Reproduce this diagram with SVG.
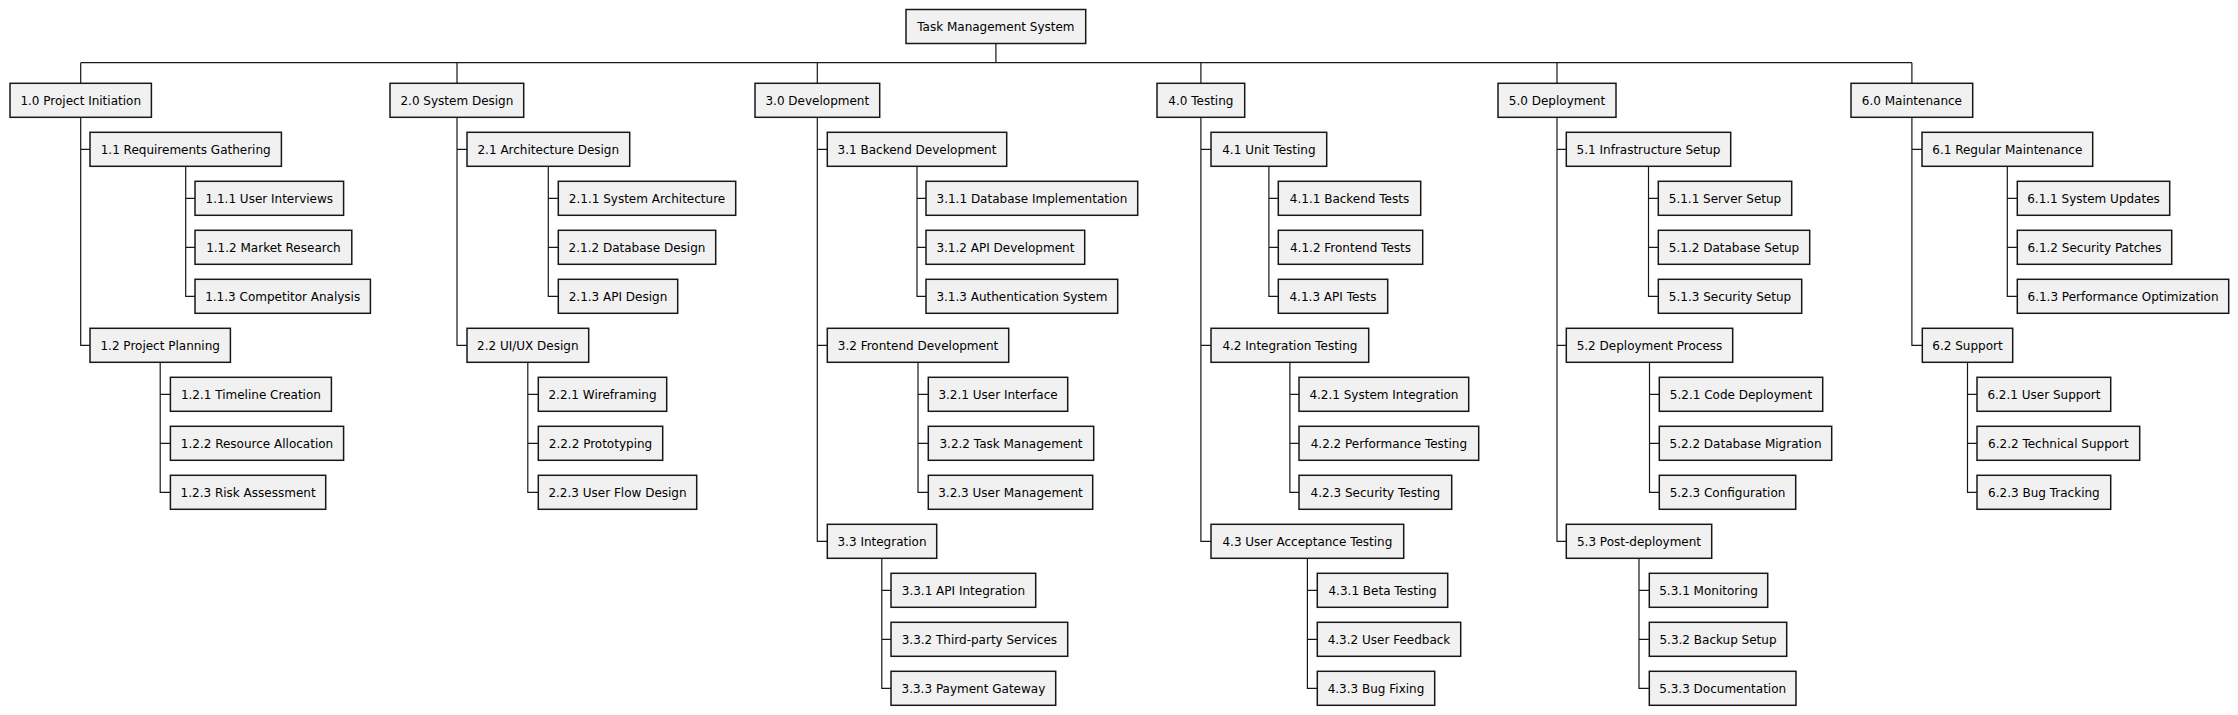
<svg xmlns="http://www.w3.org/2000/svg" width="2238" height="715" viewBox="0 0 2238 715">
<style>
rect.b{fill:#F1F1F1;stroke:#181818;stroke-width:1.5}
text{font-family:"DejaVu Sans",sans-serif;font-size:12px;fill:#000;text-anchor:middle}
path.c{fill:none;stroke:#181818;stroke-width:1.2}
</style>
<rect width="2238" height="715" fill="#FFFFFF"/>
<g id="connectors">
<path class="c" d="M995.9 43.5V62.7M80.7 62.7H1911.9M80.7 62.7V83.3M457 62.7V83.3M817.3 62.7V83.3M1200.9 62.7V83.3M1557 62.7V83.3M1911.9 62.7V83.3"/>
<path class="c" d="M80.7 117.3V345.3H90M80.7 149.3H90"/>
<path class="c" d="M185.7 166.3V296.3H195M185.7 198.3H195M185.7 247.3H195"/>
<path class="c" d="M160.2 362.3V492.3H170.4M160.2 394.3H170.4M160.2 443.3H170.4"/>
<path class="c" d="M457 117.3V345.3H467M457 149.3H467"/>
<path class="c" d="M548.3 166.3V296.3H558.3M548.3 198.3H558.3M548.3 247.3H558.3"/>
<path class="c" d="M527.8 362.3V492.3H538.3M527.8 394.3H538.3M527.8 443.3H538.3"/>
<path class="c" d="M817.3 117.3V541.3H827.3M817.3 149.3H827.3M817.3 345.3H827.3"/>
<path class="c" d="M917 166.3V296.3H926M917 198.3H926M917 247.3H926"/>
<path class="c" d="M918 362.3V492.3H928.3M918 394.3H928.3M918 443.3H928.3"/>
<path class="c" d="M881.8 558.3V688.3H891M881.8 590.3H891M881.8 639.3H891"/>
<path class="c" d="M1200.9 117.3V541.3H1211M1200.9 149.3H1211M1200.9 345.3H1211"/>
<path class="c" d="M1268.9 166.3V296.3H1278.3M1268.9 198.3H1278.3M1268.9 247.3H1278.3"/>
<path class="c" d="M1289.9 362.3V492.3H1299M1289.9 394.3H1299M1289.9 443.3H1299"/>
<path class="c" d="M1307.4 558.3V688.3H1317.3M1307.4 590.3H1317.3M1307.4 639.3H1317.3"/>
<path class="c" d="M1557 117.3V541.3H1566.3M1557 149.3H1566.3M1557 345.3H1566.3"/>
<path class="c" d="M1648.5 166.3V296.3H1658.3M1648.5 198.3H1658.3M1648.5 247.3H1658.3"/>
<path class="c" d="M1649.5 362.3V492.3H1659.3M1649.5 394.3H1659.3M1649.5 443.3H1659.3"/>
<path class="c" d="M1639 558.3V688.3H1649.3M1639 590.3H1649.3M1639 639.3H1649.3"/>
<path class="c" d="M1911.9 117.3V345.3H1922M1911.9 149.3H1922"/>
<path class="c" d="M2007.3 166.3V296.3H2017.3M2007.3 198.3H2017.3M2007.3 247.3H2017.3"/>
<path class="c" d="M1967.5 362.3V492.3H1977M1967.5 394.3H1977M1967.5 443.3H1977"/>
</g>
<g id="root"><rect class="b" x="906" y="9.5" width="179.7" height="34"/><text x="995.9" y="30.9">Task Management System</text></g>

<g id="n1_0"><rect class="b" x="10" y="83.3" width="141.4" height="34"/><text x="80.7" y="104.7">1.0 Project Initiation</text></g>
<g id="n1_1"><rect class="b" x="90" y="132.3" width="191.4" height="34"/><text x="185.7" y="153.7">1.1 Requirements Gathering</text></g>
<g id="n1_1_1"><rect class="b" x="195" y="181.3" width="148.6" height="34"/><text x="269.3" y="202.7">1.1.1 User Interviews</text></g>
<g id="n1_1_2"><rect class="b" x="195" y="230.3" width="156.8" height="34"/><text x="273.4" y="251.7">1.1.2 Market Research</text></g>
<g id="n1_1_3"><rect class="b" x="195" y="279.3" width="175.4" height="34"/><text x="282.7" y="300.7">1.1.3 Competitor Analysis</text></g>
<g id="n1_2"><rect class="b" x="90" y="328.3" width="140.4" height="34"/><text x="160.2" y="349.7">1.2 Project Planning</text></g>
<g id="n1_2_1"><rect class="b" x="170.4" y="377.3" width="161" height="34"/><text x="250.9" y="398.7">1.2.1 Timeline Creation</text></g>
<g id="n1_2_2"><rect class="b" x="170.4" y="426.3" width="173.2" height="34"/><text x="257" y="447.7">1.2.2 Resource Allocation</text></g>
<g id="n1_2_3"><rect class="b" x="170.4" y="475.3" width="155.3" height="34"/><text x="248.1" y="496.7">1.2.3 Risk Assessment</text></g>

<g id="n2_0"><rect class="b" x="390" y="83.3" width="133.7" height="34"/><text x="456.9" y="104.7">2.0 System Design</text></g>
<g id="n2_1"><rect class="b" x="467" y="132.3" width="162.7" height="34"/><text x="548.3" y="153.7">2.1 Architecture Design</text></g>
<g id="n2_1_1"><rect class="b" x="558.3" y="181.3" width="177.4" height="34"/><text x="647" y="202.7">2.1.1 System Architecture</text></g>
<g id="n2_1_2"><rect class="b" x="558.3" y="230.3" width="157.4" height="34"/><text x="637" y="251.7">2.1.2 Database Design</text></g>
<g id="n2_1_3"><rect class="b" x="558.3" y="279.3" width="119.4" height="34"/><text x="618" y="300.7">2.1.3 API Design</text></g>
<g id="n2_2"><rect class="b" x="467" y="328.3" width="121.7" height="34"/><text x="527.8" y="349.7">2.2 UI/UX Design</text></g>
<g id="n2_2_1"><rect class="b" x="538.3" y="377.3" width="128.4" height="34"/><text x="602.5" y="398.7">2.2.1 Wireframing</text></g>
<g id="n2_2_2"><rect class="b" x="538.3" y="426.3" width="124.4" height="34"/><text x="600.5" y="447.7">2.2.2 Prototyping</text></g>
<g id="n2_2_3"><rect class="b" x="538.3" y="475.3" width="158.4" height="34"/><text x="617.5" y="496.7">2.2.3 User Flow Design</text></g>

<g id="n3_0"><rect class="b" x="755" y="83.3" width="124.7" height="34"/><text x="817.3" y="104.7">3.0 Development</text></g>
<g id="n3_1"><rect class="b" x="827.3" y="132.3" width="179.4" height="34"/><text x="917" y="153.7">3.1 Backend Development</text></g>
<g id="n3_1_1"><rect class="b" x="926" y="181.3" width="211.7" height="34"/><text x="1031.9" y="202.7">3.1.1 Database Implementation</text></g>
<g id="n3_1_2"><rect class="b" x="926" y="230.3" width="158.7" height="34"/><text x="1005.4" y="251.7">3.1.2 API Development</text></g>
<g id="n3_1_3"><rect class="b" x="926" y="279.3" width="191.7" height="34"/><text x="1021.9" y="300.7">3.1.3 Authentication System</text></g>
<g id="n3_2"><rect class="b" x="827.3" y="328.3" width="181.4" height="34"/><text x="918" y="349.7">3.2 Frontend Development</text></g>
<g id="n3_2_1"><rect class="b" x="928.3" y="377.3" width="139.4" height="34"/><text x="998" y="398.7">3.2.1 User Interface</text></g>
<g id="n3_2_2"><rect class="b" x="928.3" y="426.3" width="165.4" height="34"/><text x="1011" y="447.7">3.2.2 Task Management</text></g>
<g id="n3_2_3"><rect class="b" x="928.3" y="475.3" width="164.4" height="34"/><text x="1010.5" y="496.7">3.2.3 User Management</text></g>
<g id="n3_3"><rect class="b" x="827.3" y="524.3" width="109.4" height="34"/><text x="882" y="545.7">3.3 Integration</text></g>
<g id="n3_3_1"><rect class="b" x="891" y="573.3" width="144.7" height="34"/><text x="963.4" y="594.7">3.3.1 API Integration</text></g>
<g id="n3_3_2"><rect class="b" x="891" y="622.3" width="176.7" height="34"/><text x="979.4" y="643.7">3.3.2 Third-party Services</text></g>
<g id="n3_3_3"><rect class="b" x="891" y="671.3" width="164.7" height="34"/><text x="973.4" y="692.7">3.3.3 Payment Gateway</text></g>

<g id="n4_0"><rect class="b" x="1157" y="83.3" width="87.7" height="34"/><text x="1200.9" y="104.7">4.0 Testing</text></g>
<g id="n4_1"><rect class="b" x="1211" y="132.3" width="115.7" height="34"/><text x="1268.9" y="153.7">4.1 Unit Testing</text></g>
<g id="n4_1_1"><rect class="b" x="1278.3" y="181.3" width="142.4" height="34"/><text x="1349.5" y="202.7">4.1.1 Backend Tests</text></g>
<g id="n4_1_2"><rect class="b" x="1278.3" y="230.3" width="144.4" height="34"/><text x="1350.5" y="251.7">4.1.2 Frontend Tests</text></g>
<g id="n4_1_3"><rect class="b" x="1278.3" y="279.3" width="109.4" height="34"/><text x="1333" y="300.7">4.1.3 API Tests</text></g>
<g id="n4_2"><rect class="b" x="1211" y="328.3" width="157.7" height="34"/><text x="1289.9" y="349.7">4.2 Integration Testing</text></g>
<g id="n4_2_1"><rect class="b" x="1299" y="377.3" width="169.7" height="34"/><text x="1383.9" y="398.7">4.2.1 System Integration</text></g>
<g id="n4_2_2"><rect class="b" x="1299" y="426.3" width="179.7" height="34"/><text x="1388.9" y="447.7">4.2.2 Performance Testing</text></g>
<g id="n4_2_3"><rect class="b" x="1299" y="475.3" width="152.7" height="34"/><text x="1375.4" y="496.7">4.2.3 Security Testing</text></g>
<g id="n4_3"><rect class="b" x="1211" y="524.3" width="192.7" height="34"/><text x="1307.4" y="545.7">4.3 User Acceptance Testing</text></g>
<g id="n4_3_1"><rect class="b" x="1317.3" y="573.3" width="130.4" height="34"/><text x="1382.5" y="594.7">4.3.1 Beta Testing</text></g>
<g id="n4_3_2"><rect class="b" x="1317.3" y="622.3" width="143.4" height="34"/><text x="1389" y="643.7">4.3.2 User Feedback</text></g>
<g id="n4_3_3"><rect class="b" x="1317.3" y="671.3" width="117.4" height="34"/><text x="1376" y="692.7">4.3.3 Bug Fixing</text></g>

<g id="n5_0"><rect class="b" x="1498" y="83.3" width="118" height="34"/><text x="1557" y="104.7">5.0 Deployment</text></g>
<g id="n5_1"><rect class="b" x="1566.3" y="132.3" width="164.4" height="34"/><text x="1648.5" y="153.7">5.1 Infrastructure Setup</text></g>
<g id="n5_1_1"><rect class="b" x="1658.3" y="181.3" width="133.4" height="34"/><text x="1725" y="202.7">5.1.1 Server Setup</text></g>
<g id="n5_1_2"><rect class="b" x="1658.3" y="230.3" width="151.4" height="34"/><text x="1734" y="251.7">5.1.2 Database Setup</text></g>
<g id="n5_1_3"><rect class="b" x="1658.3" y="279.3" width="143.4" height="34"/><text x="1730" y="300.7">5.1.3 Security Setup</text></g>
<g id="n5_2"><rect class="b" x="1566.3" y="328.3" width="166.4" height="34"/><text x="1649.5" y="349.7">5.2 Deployment Process</text></g>
<g id="n5_2_1"><rect class="b" x="1659.3" y="377.3" width="163.4" height="34"/><text x="1741" y="398.7">5.2.1 Code Deployment</text></g>
<g id="n5_2_2"><rect class="b" x="1659.3" y="426.3" width="172.4" height="34"/><text x="1745.5" y="447.7">5.2.2 Database Migration</text></g>
<g id="n5_2_3"><rect class="b" x="1659.3" y="475.3" width="136.4" height="34"/><text x="1727.5" y="496.7">5.2.3 Configuration</text></g>
<g id="n5_3"><rect class="b" x="1566.3" y="524.3" width="145.4" height="34"/><text x="1639" y="545.7">5.3 Post-deployment</text></g>
<g id="n5_3_1"><rect class="b" x="1649.3" y="573.3" width="118.4" height="34"/><text x="1708.5" y="594.7">5.3.1 Monitoring</text></g>
<g id="n5_3_2"><rect class="b" x="1649.3" y="622.3" width="137.4" height="34"/><text x="1718" y="643.7">5.3.2 Backup Setup</text></g>
<g id="n5_3_3"><rect class="b" x="1649.3" y="671.3" width="146.7" height="34"/><text x="1722.7" y="692.7">5.3.3 Documentation</text></g>

<g id="n6_0"><rect class="b" x="1851" y="83.3" width="121.7" height="34"/><text x="1911.9" y="104.7">6.0 Maintenance</text></g>
<g id="n6_1"><rect class="b" x="1922" y="132.3" width="170.7" height="34"/><text x="2007.3" y="153.7">6.1 Regular Maintenance</text></g>
<g id="n6_1_1"><rect class="b" x="2017.3" y="181.3" width="152.4" height="34"/><text x="2093.5" y="202.7">6.1.1 System Updates</text></g>
<g id="n6_1_2"><rect class="b" x="2017.3" y="230.3" width="154.4" height="34"/><text x="2094.5" y="251.7">6.1.2 Security Patches</text></g>
<g id="n6_1_3"><rect class="b" x="2017.3" y="279.3" width="211.4" height="34"/><text x="2123" y="300.7">6.1.3 Performance Optimization</text></g>
<g id="n6_2"><rect class="b" x="1922.3" y="328.3" width="90.4" height="34"/><text x="1967.5" y="349.7">6.2 Support</text></g>
<g id="n6_2_1"><rect class="b" x="1977" y="377.3" width="133.7" height="34"/><text x="2043.9" y="398.7">6.2.1 User Support</text></g>
<g id="n6_2_2"><rect class="b" x="1977" y="426.3" width="162.7" height="34"/><text x="2058.4" y="447.7">6.2.2 Technical Support</text></g>
<g id="n6_2_3"><rect class="b" x="1977" y="475.3" width="133.7" height="34"/><text x="2043.9" y="496.7">6.2.3 Bug Tracking</text></g>
</svg>
